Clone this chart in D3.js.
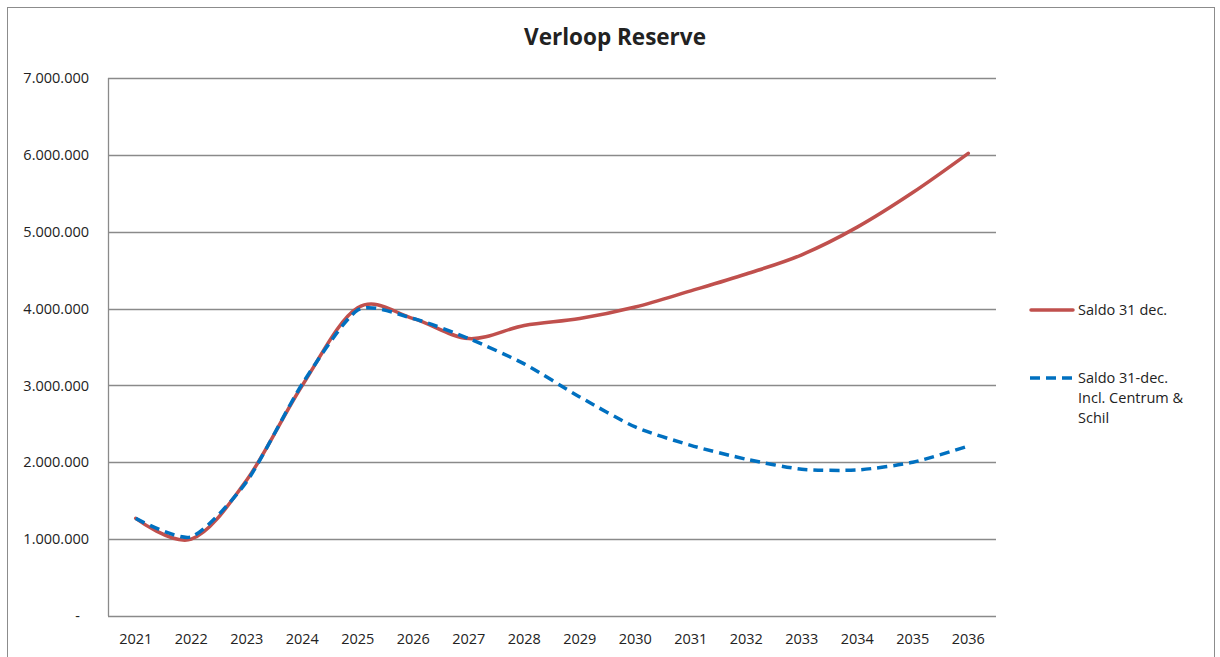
<!DOCTYPE html>
<html>
<head>
<meta charset="utf-8">
<script src="https://cdn.jsdelivr.net/npm/d3@7"></script>
<style>
  body { margin: 0; background: #fff; }
  text { font-family: "Open Sans", "Noto Sans", sans-serif; fill: #222; }
</style>
</head>
<body>
<svg id="chart" width="1220" height="657"></svg>
<script>
var years = ["2021", "2022", "2023", "2024", "2025", "2026", "2027", "2028",
             "2029", "2030", "2031", "2032", "2033", "2034", "2035", "2036"];
var saldo = [1270000, 1000000, 1770000, 3000000, 4010000, 3870000, 3610000, 3780000,
             3870000, 4020000, 4230000, 4450000, 4700000, 5060000, 5510000, 6020000];
var saldoIncl = [1270000, 1030000, 1750000, 3020000, 3980000, 3870000, 3610000, 3280000,
                 2850000, 2460000, 2220000, 2040000, 1910000, 1900000, 2000000, 2210000];
var yTicks = [0, 1000000, 2000000, 3000000, 4000000, 5000000, 6000000, 7000000];
var seriesNames = ["Saldo 31 dec.", ["Saldo 31-dec.", "Incl. Centrum &", "Schil"]];

var svg = d3.select("#chart");
var margin = { top: 78, left: 108, right: 224, bottom: 41 };
var width = 1220 - margin.left - margin.right,
    height = 657 - margin.top - margin.bottom;

// chart frame
svg.append("rect")
    .attr("x", 7.5).attr("y", 7.5)
    .attr("width", 1207).attr("height", 660)
    .attr("fill", "none").attr("stroke", "#8c8c8c").attr("stroke-width", 1);

svg.append("text")
    .attr("x", 615).attr("y", 45)
    .attr("text-anchor", "middle")
    .style("font-size", "22.5px").style("font-weight", "bold")
    .text("Verloop Reserve");

var g = svg.append("g").attr("transform", "translate(" + margin.left + "," + margin.top + ")");

var x = d3.scalePoint().domain(years).range([0, width]).padding(0.5);
var y = d3.scaleLinear().domain([0, 7000000]).range([height, 0]);

var fmt = function(v) {
    if (v === 0) return "-";
    return d3.format(",")(v).replace(/,/g, ".");
};

// gridlines
g.selectAll("line.grid")
    .data(yTicks.filter(function(d) { return d > 0; }))
    .enter().append("line")
    .attr("class", "grid")
    .attr("x1", 0).attr("x2", width)
    .attr("y1", function(d) { return Math.round(y(d)) + 0.5; })
    .attr("y2", function(d) { return Math.round(y(d)) + 0.5; })
    .attr("stroke", "#8a8a8a").attr("stroke-width", 1.3);

// axes lines
g.append("line").attr("x1", 0.5).attr("x2", 0.5).attr("y1", 0).attr("y2", height)
    .attr("stroke", "#8a8a8a").attr("stroke-width", 1.3);
g.append("line").attr("x1", 0).attr("x2", width).attr("y1", height + 0.5).attr("y2", height + 0.5)
    .attr("stroke", "#8a8a8a").attr("stroke-width", 1.3);

// y labels
g.selectAll("text.ytick")
    .data(yTicks)
    .enter().append("text")
    .attr("class", "ytick")
    .attr("x", function(d) { return d === 0 ? -28 : -19; })
    .attr("y", function(d) { return y(d); })
    .attr("dy", "0.35em")
    .attr("text-anchor", "end")
    .style("font-size", "14.5px")
    .text(fmt);

// x labels
g.selectAll("text.xtick")
    .data(years)
    .enter().append("text")
    .attr("class", "xtick")
    .attr("x", function(d) { return x(d); })
    .attr("y", height + 28)
    .attr("text-anchor", "middle")
    .style("font-size", "14.5px")
    .text(function(d) { return d; });

var line = d3.line()
    .x(function(d, i) { return x(years[i]); })
    .y(function(d) { return y(d); })
    .curve(d3.curveCardinal.tension(0));

g.append("path")
    .datum(saldo)
    .attr("d", line)
    .attr("fill", "none")
    .attr("stroke", "#c0504d")
    .attr("stroke-width", 3.5)
    .attr("stroke-linecap", "round");

g.append("path")
    .datum(saldoIncl)
    .attr("d", line.curve(d3.curveCardinal.tension(0.3)))
    .attr("fill", "none")
    .attr("stroke", "#0070c0")
    .attr("stroke-width", 3.5)
    .attr("stroke-dasharray", "10,6");

// legend
var legend = svg.append("g");
legend.append("line")
    .attr("x1", 1031).attr("x2", 1073).attr("y1", 310).attr("y2", 310)
    .attr("stroke", "#c0504d").attr("stroke-width", 3.5).attr("stroke-linecap", "round");
legend.append("text")
    .attr("x", 1078).attr("y", 310).attr("dy", "0.35em")
    .style("font-size", "14.5px")
    .text(seriesNames[0]);

legend.append("line")
    .attr("x1", 1030).attr("x2", 1073).attr("y1", 378).attr("y2", 378)
    .attr("stroke", "#0070c0").attr("stroke-width", 3.5).attr("stroke-dasharray", "10,6");
legend.selectAll("text.l2")
    .data(seriesNames[1])
    .enter().append("text")
    .attr("class", "l2")
    .attr("x", 1078)
    .attr("y", function(d, i) { return 378 + i * 20; })
    .attr("dy", "0.35em")
    .style("font-size", "14.5px")
    .text(function(d) { return d; });
</script>
</body>
</html>
